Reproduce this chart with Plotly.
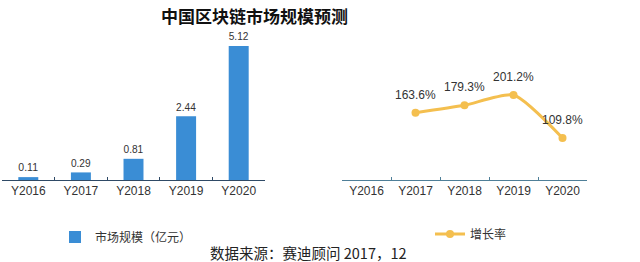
import plotly.graph_objects as go

years = ["Y2016", "Y2017", "Y2018", "Y2019", "Y2020"]
market_size = [0.11, 0.29, 0.81, 2.44, 5.12]
growth_years = ["Y2017", "Y2018", "Y2019", "Y2020"]
growth_rate = [163.6, 179.3, 201.2, 109.8]

title_text = "中国区块链市场规模预测"
bar_name = "市场规模（亿元）"
line_name = "增长率"
source_text = "数据来源：赛迪顾问 2017，12"

W, H = 640, 262
FONT = "'Liberation Sans', Arial, 'Noto Sans CJK SC', sans-serif"
CJK = "'Noto Sans CJK SC', 'Liberation Sans', sans-serif"

fig = go.Figure()

fig.add_trace(go.Bar(
    x=years, y=market_size, name=bar_name,
    text=[f"{v:.2f}" for v in market_size], textposition="outside",
    textfont=dict(size=12, color="#333333", family=FONT),
    marker=dict(color="#3a8dd5", line=dict(width=0)),
    cliponaxis=False,
    xaxis="x", yaxis="y", legend="legend",
))

fig.add_trace(go.Scatter(
    x=growth_years, y=growth_rate, name=line_name, mode="lines+markers",
    line=dict(color="#f4bf4f", width=3, shape="spline", smoothing=0.6),
    marker=dict(color="#f4bf4f", size=8),
    xaxis="x2", yaxis="y2", legend="legend2",
))

annotations = []
for xv, yv in zip(growth_years, growth_rate):
    annotations.append(dict(
        x=xv, y=yv, xref="x2", yref="y2", text=f"{yv:.1f}%",
        showarrow=False, yshift=18, yanchor="middle",
        font=dict(size=12, color="#333333", family=FONT),
    ))
annotations.append(dict(
    x=208 / W, y=(H - 252) / H, xref="paper", yref="paper",
    text=source_text, showarrow=False, xanchor="left", yanchor="middle",
    font=dict(size=14.5, color="#222222", family=CJK),
))
annotations.append(dict(
    x=254 / W, y=(H - 16) / H, xref="paper", yref="paper",
    text=f"<b>{title_text}</b>", showarrow=False, xanchor="center", yanchor="middle",
    font=dict(size=17, color="#111111", family=CJK),
))

axis_common = dict(
    type="category", showgrid=False, zeroline=False, showline=True,
    tickson="boundaries", ticks="inside", ticklen=3,
    tickfont=dict(size=12, color="#333333", family=FONT),
    fixedrange=True,
)

fig.update_layout(
    width=W, height=H,
    margin=dict(l=0, r=0, t=0, b=0),
    paper_bgcolor="white", plot_bgcolor="white",
    bargap=0.62,
    showlegend=True,
    xaxis=dict(axis_common, domain=[2 / W, 265 / W], linecolor="#2f4a66",
               tickcolor="#2f4a66", linewidth=1, categoryorder="array",
               categoryarray=years),
    yaxis=dict(domain=[(H - 180) / H, (H - 23) / H], range=[0, 6],
               visible=False, fixedrange=True),
    xaxis2=dict(axis_common, domain=[342 / W, 587 / W], linecolor="#4f7f98",
                tickcolor="#4f7f98", linewidth=1, categoryorder="array",
                categoryarray=years, range=[-0.5, 4.5]),
    yaxis2=dict(domain=[(H - 184) / H, (H - 67.3) / H], range=[12, 260],
                visible=False, fixedrange=True),
    legend=dict(x=55 / W, y=(H - 237) / H, xanchor="left", yanchor="middle",
                font=dict(size=12, color="#333333", family=CJK),
                bgcolor="rgba(0,0,0,0)"),
    legend2=dict(x=430 / W, y=(H - 234) / H, xanchor="left", yanchor="middle",
                 font=dict(size=12, color="#333333", family=CJK),
                 bgcolor="rgba(0,0,0,0)"),
    annotations=annotations,
)

fig.write_html("out.html")
